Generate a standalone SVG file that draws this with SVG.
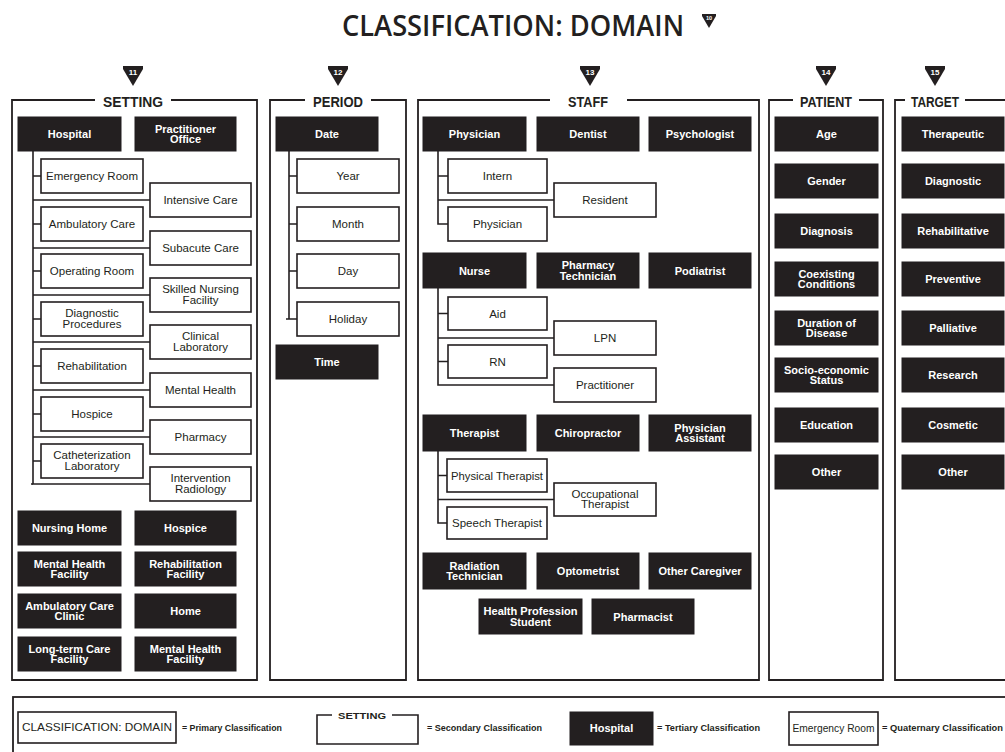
<svg xmlns="http://www.w3.org/2000/svg" xmlns:xlink="http://www.w3.org/1999/xlink" width="1005" height="752" viewBox="0 0 1005 752">
<style>
.bg{fill:#fff}
.blk{fill:#231f20;stroke:#231f20;stroke-width:1}
.wht{fill:#fff;stroke:#231f20;stroke-width:1.6}
.frame{fill:none;stroke:#231f20;stroke-width:1.8}
.conn{fill:none;stroke:#231f20;stroke-width:1.6}
.tb{font-family:"Liberation Sans",Arial,sans-serif;font-weight:bold;font-size:11px;fill:#fff;text-anchor:middle}
.tw{font-family:"Liberation Sans",Arial,sans-serif;font-size:11.5px;fill:#231f20;text-anchor:middle}
.hd{font-family:"Liberation Sans",Arial,sans-serif;font-weight:bold;font-size:15px;fill:#231f20;text-anchor:middle}
.mk{fill:#231f20}
.mkt{font-family:"Liberation Sans",Arial,sans-serif;font-weight:bold;font-size:8px;fill:#fff;text-anchor:middle}
.title{font-family:"Open Sans","Liberation Sans",sans-serif;font-weight:600;font-size:29px;fill:#231f20}
.lg{font-family:"Liberation Sans",Arial,sans-serif;font-weight:bold;font-size:9.5px;fill:#231f20}
.lgw{font-family:"Liberation Sans",Arial,sans-serif;font-size:11px;fill:#231f20;text-anchor:middle}
</style>
<defs>
<path id="tri" d="M-10,0 H10 V3 L0,20 L-10,3 Z"/>
</defs>
<rect class="bg" x="0" y="0" width="1005" height="752"/>

<g id="title">
<text class="title" x="342" y="36" textLength="342" lengthAdjust="spacingAndGlyphs">CLASSIFICATION: DOMAIN</text>
</g>
<g id="title-marker" transform="translate(709,14) scale(0.7)"><use href="#tri" class="mk"/><text class="mkt" x="0" y="9">10</text></g>

<g id="markers">
<g transform="translate(133,66)"><use href="#tri" class="mk"/><text class="mkt" x="0" y="9">11</text></g>
<g transform="translate(338,66)"><use href="#tri" class="mk"/><text class="mkt" x="0" y="9">12</text></g>
<g transform="translate(590,66)"><use href="#tri" class="mk"/><text class="mkt" x="0" y="9">13</text></g>
<g transform="translate(826,66)"><use href="#tri" class="mk"/><text class="mkt" x="0" y="9">14</text></g>
<g transform="translate(935,66)"><use href="#tri" class="mk"/><text class="mkt" x="0" y="9">15</text></g>
</g>

<g id="frame-setting">
<path class="frame" d="M95,100 H12 V680 H257 V100 H171"/>
<text class="hd" x="133" y="107" textLength="60" lengthAdjust="spacingAndGlyphs">SETTING</text>
</g>
<g id="frame-period">
<path class="frame" d="M305,100 H270 V680 H406 V100 H371"/>
<text class="hd" x="338" y="107" textLength="50" lengthAdjust="spacingAndGlyphs">PERIOD</text>
</g>
<g id="frame-staff">
<path class="frame" d="M550,100 H418 V680 H759 V100 H627"/>
<text class="hd" x="588" y="107" textLength="40" lengthAdjust="spacingAndGlyphs">STAFF</text>
</g>
<g id="frame-patient">
<path class="frame" d="M793,100 H769 V680 H883 V100 H859"/>
<text class="hd" x="826" y="107" textLength="52" lengthAdjust="spacingAndGlyphs">PATIENT</text>
</g>
<g id="frame-target">
<path class="frame" d="M905,100 H895 V680 H1012 V100 H965"/>
<text class="hd" x="935" y="107" textLength="48" lengthAdjust="spacingAndGlyphs">TARGET</text>
</g>

<g id="connectors">
<path class="conn" d="M33,151 V484 H150"/>
<path class="conn" d="M31,484 H33"/>
<path class="conn" d="M33,176 H41 M33,224 H41 M33,271 H41 M33,319 H41 M33,366 H41 M33,414 H41 M33,461 H41"/>
<path class="conn" d="M33,200 H150 M33,248 H150 M33,295 H150 M33,342 H150 M33,390 H150 M33,437 H150"/>
<path class="conn" d="M289,151 V319 H297 M286,319 H289"/>
<path class="conn" d="M289,176 H297 M289,224 H297 M289,271 H297"/>
<path class="conn" d="M438,151 V224 H448 M438,176 H448 M438,200 H554"/>
<path class="conn" d="M438,288 V385 H554 M438,313.5 H448 M438,338 H554 M438,361.5 H448"/>
<path class="conn" d="M438,451 V523 H447 M438,475.5 H447 M438,499.5 H554"/>
</g>

<g id="hospital"><rect class="blk" x="18" y="117" width="103" height="34"/><text class="tb" x="69.5" y="138">Hospital</text></g>
<g id="practitioner-office"><rect class="blk" x="135" y="117" width="101" height="34"/><text class="tb" x="185.5" y="132.5">Practitioner</text><text class="tb" x="185.5" y="143">Office</text></g>

<g id="emergency-room"><rect class="wht" x="41" y="159" width="102" height="34"/><text class="tw" x="92" y="180">Emergency Room</text></g>
<g id="ambulatory-care"><rect class="wht" x="41" y="207" width="102" height="34"/><text class="tw" x="92" y="228">Ambulatory Care</text></g>
<g id="operating-room"><rect class="wht" x="41" y="254" width="102" height="34"/><text class="tw" x="92" y="275">Operating Room</text></g>
<g id="diagnostic-procedures"><rect class="wht" x="41" y="302" width="102" height="34"/><text class="tw" x="92" y="317">Diagnostic</text><text class="tw" x="92" y="328">Procedures</text></g>
<g id="rehabilitation"><rect class="wht" x="41" y="349" width="102" height="34"/><text class="tw" x="92" y="370">Rehabilitation</text></g>
<g id="hospice-unit"><rect class="wht" x="41" y="397" width="102" height="34"/><text class="tw" x="92" y="418">Hospice</text></g>
<g id="catheterization-laboratory"><rect class="wht" x="41" y="444" width="102" height="34"/><text class="tw" x="92" y="459">Catheterization</text><text class="tw" x="92" y="470">Laboratory</text></g>

<g id="intensive-care"><rect class="wht" x="150" y="183" width="101" height="34"/><text class="tw" x="200.5" y="204">Intensive Care</text></g>
<g id="subacute-care"><rect class="wht" x="150" y="231" width="101" height="34"/><text class="tw" x="200.5" y="252">Subacute Care</text></g>
<g id="skilled-nursing"><rect class="wht" x="150" y="278" width="101" height="34"/><text class="tw" x="200.5" y="293">Skilled Nursing</text><text class="tw" x="200.5" y="304">Facility</text></g>
<g id="clinical-laboratory"><rect class="wht" x="150" y="325" width="101" height="34"/><text class="tw" x="200.5" y="340">Clinical</text><text class="tw" x="200.5" y="351">Laboratory</text></g>
<g id="mental-health"><rect class="wht" x="150" y="373" width="101" height="34"/><text class="tw" x="200.5" y="394">Mental Health</text></g>
<g id="pharmacy"><rect class="wht" x="150" y="420" width="101" height="34"/><text class="tw" x="200.5" y="441">Pharmacy</text></g>
<g id="intervention-radiology"><rect class="wht" x="150" y="467" width="101" height="34"/><text class="tw" x="200.5" y="482">Intervention</text><text class="tw" x="200.5" y="493">Radiology</text></g>

<g id="nursing-home"><rect class="blk" x="18" y="511" width="103" height="34"/><text class="tb" x="69.5" y="532">Nursing Home</text></g>
<g id="hospice"><rect class="blk" x="135" y="511" width="101" height="34"/><text class="tb" x="185.5" y="532">Hospice</text></g>
<g id="mental-health-facility-1"><rect class="blk" x="18" y="552" width="103" height="34"/><text class="tb" x="69.5" y="567.5">Mental Health</text><text class="tb" x="69.5" y="578">Facility</text></g>
<g id="rehabilitation-facility"><rect class="blk" x="135" y="552" width="101" height="34"/><text class="tb" x="185.5" y="567.5">Rehabilitation</text><text class="tb" x="185.5" y="578">Facility</text></g>
<g id="ambulatory-care-clinic"><rect class="blk" x="18" y="594" width="103" height="34"/><text class="tb" x="69.5" y="609.5">Ambulatory Care</text><text class="tb" x="69.5" y="620">Clinic</text></g>
<g id="home"><rect class="blk" x="135" y="594" width="101" height="34"/><text class="tb" x="185.5" y="615">Home</text></g>
<g id="long-term-care-facility"><rect class="blk" x="18" y="637" width="103" height="34"/><text class="tb" x="69.5" y="652.5">Long-term Care</text><text class="tb" x="69.5" y="663">Facility</text></g>
<g id="mental-health-facility-2"><rect class="blk" x="135" y="637" width="101" height="34"/><text class="tb" x="185.5" y="652.5">Mental Health</text><text class="tb" x="185.5" y="663">Facility</text></g>

<g id="date"><rect class="blk" x="276" y="117" width="102" height="34"/><text class="tb" x="327" y="138">Date</text></g>
<g id="year"><rect class="wht" x="297" y="159" width="102" height="34"/><text class="tw" x="348" y="180">Year</text></g>
<g id="month"><rect class="wht" x="297" y="207" width="102" height="34"/><text class="tw" x="348" y="228">Month</text></g>
<g id="day"><rect class="wht" x="297" y="254" width="102" height="34"/><text class="tw" x="348" y="275">Day</text></g>
<g id="holiday"><rect class="wht" x="297" y="302" width="102" height="34"/><text class="tw" x="348" y="323">Holiday</text></g>
<g id="time"><rect class="blk" x="276" y="345" width="102" height="34"/><text class="tb" x="327" y="366">Time</text></g>

<g id="physician"><rect class="blk" x="423" y="117" width="103" height="34"/><text class="tb" x="474.5" y="138">Physician</text></g>
<g id="dentist"><rect class="blk" x="537" y="117" width="102" height="34"/><text class="tb" x="588" y="138">Dentist</text></g>
<g id="psychologist"><rect class="blk" x="649" y="117" width="102" height="34"/><text class="tb" x="700" y="138">Psychologist</text></g>
<g id="intern"><rect class="wht" x="448" y="159" width="99" height="34"/><text class="tw" x="497.5" y="180">Intern</text></g>
<g id="resident"><rect class="wht" x="554" y="183" width="102" height="34"/><text class="tw" x="605" y="204">Resident</text></g>
<g id="physician-sub"><rect class="wht" x="448" y="207" width="99" height="34"/><text class="tw" x="497.5" y="228">Physician</text></g>

<g id="nurse"><rect class="blk" x="423" y="253" width="103" height="35"/><text class="tb" x="474.5" y="274.5">Nurse</text></g>
<g id="pharmacy-technician"><rect class="blk" x="537" y="253" width="102" height="35"/><text class="tb" x="588" y="269">Pharmacy</text><text class="tb" x="588" y="279.5">Technician</text></g>
<g id="podiatrist"><rect class="blk" x="649" y="253" width="102" height="35"/><text class="tb" x="700" y="274.5">Podiatrist</text></g>
<g id="aid"><rect class="wht" x="448" y="297" width="99" height="33"/><text class="tw" x="497.5" y="317.5">Aid</text></g>
<g id="lpn"><rect class="wht" x="554" y="321" width="102" height="34"/><text class="tw" x="605" y="342">LPN</text></g>
<g id="rn"><rect class="wht" x="448" y="345" width="99" height="33"/><text class="tw" x="497.5" y="365.5">RN</text></g>
<g id="practitioner"><rect class="wht" x="554" y="368" width="102" height="34"/><text class="tw" x="605" y="389">Practitioner</text></g>

<g id="therapist"><rect class="blk" x="423" y="415" width="103" height="36"/><text class="tb" x="474.5" y="437">Therapist</text></g>
<g id="chiropractor"><rect class="blk" x="537" y="415" width="102" height="36"/><text class="tb" x="588" y="437">Chiropractor</text></g>
<g id="physician-assistant"><rect class="blk" x="649" y="415" width="102" height="36"/><text class="tb" x="700" y="431.5">Physician</text><text class="tb" x="700" y="442">Assistant</text></g>
<g id="physical-therapist"><rect class="wht" x="447" y="459" width="100" height="33"/><text class="tw" x="497" y="479.5" textLength="92" lengthAdjust="spacingAndGlyphs">Physical Therapist</text></g>
<g id="occupational-therapist"><rect class="wht" x="554" y="483" width="102" height="33"/><text class="tw" x="605" y="497.5">Occupational</text><text class="tw" x="605" y="508">Therapist</text></g>
<g id="speech-therapist"><rect class="wht" x="447" y="507" width="100" height="32"/><text class="tw" x="497" y="527">Speech Therapist</text></g>

<g id="radiation-technician"><rect class="blk" x="423" y="553" width="103" height="36"/><text class="tb" x="474.5" y="569.5">Radiation</text><text class="tb" x="474.5" y="580">Technician</text></g>
<g id="optometrist"><rect class="blk" x="537" y="553" width="102" height="36"/><text class="tb" x="588" y="575">Optometrist</text></g>
<g id="other-caregiver"><rect class="blk" x="649" y="553" width="102" height="36"/><text class="tb" x="700" y="575">Other Caregiver</text></g>
<g id="health-profession-student"><rect class="blk" x="479" y="599" width="103" height="35"/><text class="tb" x="530.5" y="615" textLength="94" lengthAdjust="spacingAndGlyphs">Health Profession</text><text class="tb" x="530.5" y="625.5">Student</text></g>
<g id="pharmacist"><rect class="blk" x="592" y="599" width="102" height="35"/><text class="tb" x="643" y="620.5">Pharmacist</text></g>

<g id="age"><rect class="blk" x="775" y="117" width="103" height="34"/><text class="tb" x="826.5" y="138">Age</text></g>
<g id="gender"><rect class="blk" x="775" y="164" width="103" height="34"/><text class="tb" x="826.5" y="185">Gender</text></g>
<g id="diagnosis"><rect class="blk" x="775" y="214" width="103" height="34"/><text class="tb" x="826.5" y="235">Diagnosis</text></g>
<g id="coexisting-conditions"><rect class="blk" x="775" y="262" width="103" height="34"/><text class="tb" x="826.5" y="277.5">Coexisting</text><text class="tb" x="826.5" y="288">Conditions</text></g>
<g id="duration-of-disease"><rect class="blk" x="775" y="311" width="103" height="34"/><text class="tb" x="826.5" y="326.5">Duration of</text><text class="tb" x="826.5" y="337">Disease</text></g>
<g id="socio-economic-status"><rect class="blk" x="775" y="358" width="103" height="34"/><text class="tb" x="826.5" y="373.5">Socio-economic</text><text class="tb" x="826.5" y="384">Status</text></g>
<g id="education"><rect class="blk" x="775" y="408" width="103" height="34"/><text class="tb" x="826.5" y="429">Education</text></g>
<g id="patient-other"><rect class="blk" x="775" y="455" width="103" height="34"/><text class="tb" x="826.5" y="476">Other</text></g>

<g id="therapeutic"><rect class="blk" x="902" y="117" width="102" height="34"/><text class="tb" x="953" y="138">Therapeutic</text></g>
<g id="diagnostic"><rect class="blk" x="902" y="164" width="102" height="34"/><text class="tb" x="953" y="185">Diagnostic</text></g>
<g id="rehabilitative"><rect class="blk" x="902" y="214" width="102" height="34"/><text class="tb" x="953" y="235">Rehabilitative</text></g>
<g id="preventive"><rect class="blk" x="902" y="262" width="102" height="34"/><text class="tb" x="953" y="283">Preventive</text></g>
<g id="palliative"><rect class="blk" x="902" y="311" width="102" height="34"/><text class="tb" x="953" y="332">Palliative</text></g>
<g id="research"><rect class="blk" x="902" y="358" width="102" height="34"/><text class="tb" x="953" y="379">Research</text></g>
<g id="cosmetic"><rect class="blk" x="902" y="408" width="102" height="34"/><text class="tb" x="953" y="429">Cosmetic</text></g>
<g id="target-other"><rect class="blk" x="902" y="455" width="102" height="34"/><text class="tb" x="953" y="476">Other</text></g>

<g id="legend">
<rect class="frame" x="13" y="697" width="1000" height="70"/>
<rect class="wht" x="18" y="712" width="158" height="31"/>
<text class="lgw" x="97" y="731" textLength="150" lengthAdjust="spacingAndGlyphs">CLASSIFICATION: DOMAIN</text>
<text class="lg" x="182" y="731" textLength="100" lengthAdjust="spacingAndGlyphs">= Primary Classification</text>
<path class="conn" d="M332,715 H317 V744 H418 V715 H392"/>
<text class="lg" x="362" y="719" text-anchor="middle" textLength="48" lengthAdjust="spacingAndGlyphs">SETTING</text>
<text class="lg" x="427" y="731" textLength="115" lengthAdjust="spacingAndGlyphs">= Secondary Classification</text>
<rect class="blk" x="570" y="712" width="83" height="33"/>
<text class="tb" x="611.5" y="732">Hospital</text>
<text class="lg" x="657" y="731" textLength="103" lengthAdjust="spacingAndGlyphs">= Tertiary Classification</text>
<rect class="wht" x="789" y="712" width="89" height="33"/>
<text class="tw" x="833.5" y="732" font-size="10.5px" textLength="82" lengthAdjust="spacingAndGlyphs">Emergency Room</text>
<text class="lg" x="882" y="731" textLength="121" lengthAdjust="spacingAndGlyphs">= Quaternary Classification</text>
</g>
</svg>
